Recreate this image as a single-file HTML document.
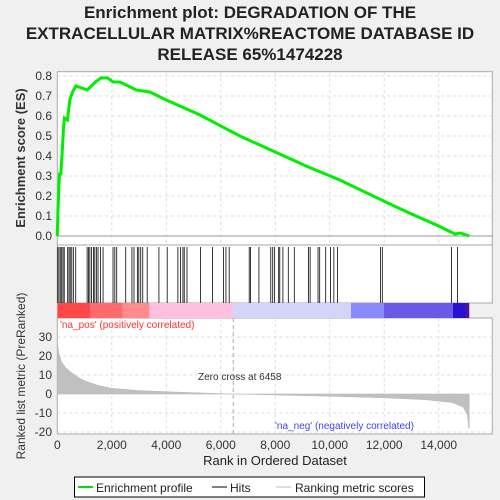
<!DOCTYPE html>
<html><head><meta charset="utf-8"><style>
body{margin:0;background:#f0f0f0;}
svg{display:block;font-family:"Liberation Sans",sans-serif;}
</style></head><body>
<svg id="c" width="500" height="500">
<rect width="500" height="500" fill="#f0f0f0"/>
<g font-size="17" font-weight="bold" text-anchor="middle" fill="#222">
<text x="250" y="18">Enrichment plot: DEGRADATION OF THE</text>
<text x="250" y="39">EXTRACELLULAR MATRIX%REACTOME DATABASE ID</text>
<text x="250" y="60">RELEASE 65%1474228</text>
</g>
<rect x="57.3" y="71.7" width="435" height="173.3" fill="#fff" stroke="#aaa"/>
<rect x="57.3" y="245" width="435" height="58" fill="#fff" stroke="#aaa"/>
<rect x="57.3" y="318" width="435" height="116" fill="#fff" stroke="#aaa"/>
<g id="grid"></g>
<g id="cbar"></g>
<g id="hits"></g>
<g id="metric"></g>
<g id="es"></g>
<g id="axes" font-size="12" fill="#333"></g>
<text x="198" y="380" font-size="10" fill="#333">Zero cross at 6458</text>
<text x="60" y="328" font-size="10" fill="#ff3030">'na_pos' (positively correlated)</text>
<text x="275" y="429" font-size="10" fill="#4040ff">'na_neg' (negatively correlated)</text>
<text transform="translate(25,158) rotate(-90)" text-anchor="middle" font-size="13" font-weight="bold" fill="#333">Enrichment score (ES)</text>
<text transform="translate(25,376) rotate(-90)" text-anchor="middle" font-size="12" fill="#333">Ranked list metric (PreRanked)</text>
<text x="275" y="465" text-anchor="middle" font-size="13" fill="#222">Rank in Ordered Dataset</text>
<g>
<rect x="74.5" y="477" width="350" height="20" fill="#fff" stroke="#000"/>
<line x1="78" y1="487" x2="93" y2="487" stroke="#00e000" stroke-width="2"/>
<text x="96" y="492" font-size="12" fill="#222">Enrichment profile</text>
<line x1="212" y1="487" x2="227" y2="487" stroke="#000"/>
<text x="230" y="492" font-size="12" fill="#222">Hits</text>
<line x1="276" y1="487" x2="291" y2="487" stroke="#bbb"/>
<text x="295" y="492" font-size="12" fill="#222">Ranking metric scores</text>
</g>
</svg>
<script>
const hitRanks=[15,60,110,160,210,255,380,430,475,530,590,675,1095,1145,1195,1255,1330,1375,1435,1495,1585,1680,2045,2110,2180,2510,2740,2815,2940,2990,3060,3135,3300,3730,4035,4425,4520,4610,4660,4760,5255,5695,6100,6190,6310,7045,7090,7400,7835,7905,7975,8125,8165,8280,8480,8700,9220,9280,9570,9630,9850,10030,10150,10285,11860,11930,14470,14690];
const esRanks=[0,25,80,130,180,230,260,370,460,560,680,1100,1400,1600,1850,2050,2300,2900,3400,4000,5240,6700,8000,9130,10370,12130,13000,14000,14590,14800,15120];
const esValues=[0,0.13,0.31,0.31,0.42,0.54,0.59,0.58,0.68,0.72,0.75,0.73,0.77,0.79,0.79,0.77,0.77,0.73,0.72,0.68,0.605,0.5,0.42,0.35,0.28,0.165,0.11,0.05,0.01,0.015,0.0];
const mRanks=[0,50,150,300,500,800,1000,1500,2000,3000,4000,5000,6458,8000,10000,12000,13500,14500,14900,15050,15100,15120];
const mValues=[28,22,17,14,11.5,8.5,7,4.5,3,1.8,1.2,0.7,0,-0.5,-1.2,-2,-3,-4.5,-7,-11,-18,-18];
const esTicks=[0,0.1,0.2,0.3,0.4,0.5,0.6,0.7,0.8];
const mTicks=[-20,-10,0,10,20,30];
const xTicks=[0,2000,4000,6000,8000,10000,12000,14000];
const NS='http://www.w3.org/2000/svg';
const X=r=>57.3+r*0.027245;
const YE=v=>236-v*200;
const YM=v=>394-v*1.9;
function mk(p,t,a){const e=document.createElementNS(NS,t);for(const k in a)e.setAttribute(k,a[k]);document.getElementById(p).appendChild(e);return e;}
xTicks.forEach(t=>{if(t===0)return;
const g1=mk('grid','line',{x1:X(t),x2:X(t),y1:72,y2:245,stroke:'#ddd','stroke-dasharray':'3,3'});

const g2=mk('grid','line',{x1:X(t),x2:X(t),y1:318,y2:434,stroke:'#ddd','stroke-dasharray':'3,3'});
});
esTicks.forEach(t=>{const g=mk('grid','line',{x1:57.3,x2:492.3,y1:YE(t),y2:YE(t),stroke:t===0?'#999':'#ddd','stroke-dasharray':t===0?'':'3,3'});

const l=mk('axes','text',{x:52,y:YE(t)+4,'text-anchor':'end'});l.textContent=t.toFixed(1);
});
mTicks.forEach(t=>{const g=mk('grid','line',{x1:57.3,x2:492.3,y1:YM(t),y2:YM(t),stroke:'#ddd','stroke-dasharray':'3,3'});

const l=mk('axes','text',{x:52,y:YM(t)+4,'text-anchor':'end'});l.textContent=t;
});
xTicks.forEach(t=>{const l=mk('axes','text',{x:X(t),y:449,'text-anchor':'middle'});l.textContent=t.toLocaleString('en-US');
});
const zc=mk('grid','line',{x1:X(6458),x2:X(6458),y1:318,y2:434,stroke:'#aaa','stroke-dasharray':'4,3'});

const segs=[[0,1200,'#ff4848'],[1200,2400,'#ff6a6a'],[2400,3380,'#ff8c8c'],[3380,6440,'#ffc0e0'],[6440,10780,'#d4d4f8'],[10780,11980,'#8a8aff'],[11980,14520,'#6a58e8'],[14520,15000,'#2a10d0'],[15000,15120,'#5010a0']];
segs.forEach(s=>{const r=mk('cbar','rect',{x:X(s[0]),y:303,width:X(s[1])-X(s[0]),height:15,fill:s[2]});
});
hitRanks.forEach(h=>{const l=mk('hits','line',{x1:X(h),x2:X(h),y1:247,y2:303,stroke:'#222','stroke-width':0.9});
});
let d='M'+X(0)+','+YM(0);mRanks.forEach((r,i)=>d+=' L'+X(r)+','+YM(mValues[i]));d+=' L'+X(mRanks[mRanks.length-1])+','+YM(0)+' Z';
const ma=mk('metric','path',{d:d,fill:'#c0c0c0',stroke:'#b8b8b8','stroke-width':0.5});

const pts=esRanks.map((r,i)=>X(r)+','+YE(esValues[i])).join(' ');
const el=mk('es','polyline',{points:pts,fill:'none',stroke:'#00ee00','stroke-width':3});

</script>
</body></html>
